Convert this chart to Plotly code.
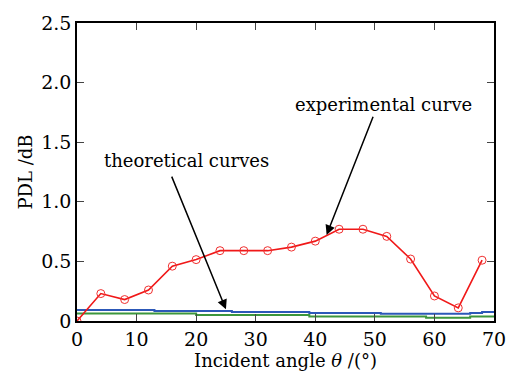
import plotly.graph_objects as go

# experimental data
exp_angle = [0, 4, 8, 12, 16, 20, 24, 28, 32, 36, 40, 44, 48, 52, 56, 60, 64, 68]
exp_pdl = [0.0, 0.23, 0.18, 0.26, 0.46, 0.515, 0.59, 0.59, 0.59, 0.62, 0.67, 0.77, 0.77, 0.71, 0.52, 0.21, 0.11, 0.51]

# theoretical curves (step-like)
theo1_angle = [0, 13, 26, 39, 51, 64, 66, 68, 70]
theo1_pdl = [0.092, 0.084, 0.076, 0.068, 0.060, 0.060, 0.068, 0.076, 0.076]
theo2_angle = [0, 20, 39, 58.6, 66, 70]
theo2_pdl = [0.063, 0.050, 0.038, 0.027, 0.038, 0.038]

x_ticks = [0, 10, 20, 30, 40, 50, 60, 70]
y_ticks = [0, 0.5, 1.0, 1.5, 2.0, 2.5]
y_tick_text = ["0", "0.5", "1.0", "1.5", "2.0", "2.5"]

FONT = "DejaVu Serif"

fig = go.Figure()
fig.add_trace(go.Scatter(x=theo1_angle, y=theo1_pdl, mode="lines", line_shape="hv",
                         line=dict(color="#2c58b8", width=2), showlegend=False))
fig.add_trace(go.Scatter(x=theo2_angle, y=theo2_pdl, mode="lines", line_shape="hv",
                         line=dict(color="#3c963c", width=2), showlegend=False))
fig.add_trace(go.Scatter(x=exp_angle, y=exp_pdl, mode="lines+markers",
                         line=dict(color="#f01818", width=1.6),
                         marker=dict(symbol="circle-open", size=8, color="#f03030", line=dict(width=1)),
                         showlegend=False))

fig.add_annotation(x=25.0, y=0.098, ax=15.8, ay=1.224, xref="x", yref="y", axref="x", ayref="y",
                   showarrow=True, arrowhead=2, arrowsize=1.3, arrowwidth=1.5, arrowcolor="black", text="")
fig.add_annotation(x=41.9, y=0.722, ax=49.8, ay=1.726, xref="x", yref="y", axref="x", ayref="y",
                   showarrow=True, arrowhead=2, arrowsize=1.3, arrowwidth=1.5, arrowcolor="black", text="")
fig.add_annotation(x=18.3, y=1.35, xref="x", yref="y", text="theoretical curves", showarrow=False,
                   font=dict(family=FONT, size=18, color="black"))
fig.add_annotation(x=51.4, y=1.82, xref="x", yref="y", text="experimental curve", showarrow=False,
                   font=dict(family=FONT, size=18, color="black"))

fig.update_layout(
    width=518, height=376,
    margin=dict(l=77, r=22, t=14, b=54),
    paper_bgcolor="white", plot_bgcolor="white",
    font=dict(family=FONT, size=19, color="black"),
    xaxis=dict(range=[0, 70], tickvals=x_ticks, ticks="inside", ticklen=7, tickwidth=1,
               showline=True, linecolor="black", linewidth=1.5, mirror="ticks", showgrid=False,
               zeroline=False, title=dict(text="Incident angle <i>θ</i> /(°)", standoff=2,
                                          font=dict(family=FONT, size=18))),
    yaxis=dict(range=[0, 2.5], tickvals=y_ticks, ticktext=y_tick_text, ticks="inside", ticklen=7,
               tickwidth=1, showline=True, linecolor="black", linewidth=1.5, mirror="ticks",
               showgrid=False, zeroline=False,
               title=dict(text="PDL /dB", standoff=4, font=dict(family=FONT, size=18))),
)

fig.write_html("out.html")
